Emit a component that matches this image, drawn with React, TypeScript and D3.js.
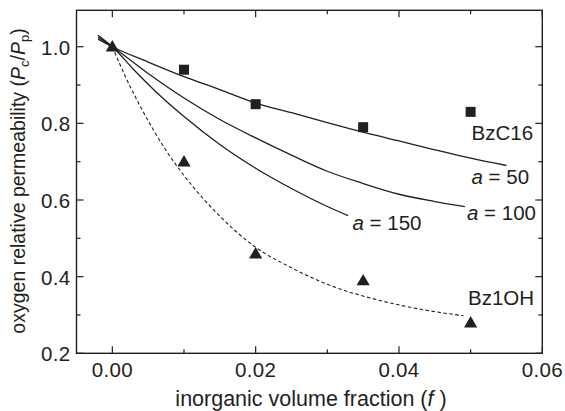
import React from "react";
import * as d3 from "d3";

const bzc16X = [0.01, 0.02, 0.035, 0.05];
const bzc16Y = [0.94, 0.85, 0.79, 0.83];
const bz1ohX = [0.0, 0.01, 0.02, 0.035, 0.05];
const bz1ohY = [1.0, 0.70, 0.46, 0.39, 0.28];

const curveA50: [number, number][] = [
  [-0.002, 1.02], [0, 1.0], [0.005, 0.96], [0.01, 0.922], [0.015, 0.888], [0.02, 0.853],
  [0.025, 0.828], [0.03, 0.802], [0.035, 0.777], [0.04, 0.754], [0.045, 0.731], [0.05, 0.709], [0.055, 0.69],
];
const curveA100: [number, number][] = [
  [-0.002, 1.025], [0, 1.0], [0.005, 0.93], [0.01, 0.866], [0.015, 0.81], [0.02, 0.762],
  [0.025, 0.717], [0.03, 0.675], [0.035, 0.643], [0.04, 0.615], [0.045, 0.596], [0.0492, 0.583],
];
const curveA150: [number, number][] = [
  [-0.002, 1.03], [0, 1.0], [0.003, 0.94], [0.006, 0.884], [0.01, 0.818], [0.015, 0.745],
  [0.02, 0.683], [0.025, 0.63], [0.03, 0.583], [0.0329, 0.559],
];
const curveBz1OH: [number, number][] = [
  [0, 1.0], [0.002, 0.915], [0.004, 0.841], [0.0073, 0.735], [0.01, 0.664], [0.015, 0.558],
  [0.0196, 0.482], [0.025, 0.423], [0.03, 0.38], [0.0373, 0.338], [0.043, 0.315], [0.049, 0.298],
];

const xMajor = [0.0, 0.02, 0.04, 0.06];
const xMinor = [0.01, 0.03, 0.05];
const yMajor = [0.2, 0.4, 0.6, 0.8, 1.0];
const yMinor = [0.3, 0.5, 0.7, 0.9];

const W = 565, H = 411;
const L = 76.5, R = 542.3, T = 10.3, B = 353.3;
const INK = "#231f20";
const FONT = "'Liberation Sans', Arial, Helvetica, sans-serif";

export default function App() {
  const x = d3.scaleLinear().domain([-0.005, 0.06]).range([L, R]);
  const y = d3.scaleLinear().domain([0.2, 1.095]).range([B, T]);
  const line = d3.line<[number, number]>().x(d => x(d[0])).y(d => y(d[1])).curve(d3.curveMonotoneX);
  const fs = 20.5;
  const tri = d3.symbol().type(d3.symbolTriangle).size(75)();
  return (
    <svg width={W} height={H} style={{ position: "absolute", left: 0, top: 0, background: "#fff" }}
      fontFamily={FONT} fill={INK}>
      <rect x={0} y={0} width={W} height={H} fill="#fff" />
      {/* curves */}
      <g fill="none" stroke={INK} strokeWidth={1.3}>
        <path d={line(curveA50) || ""} />
        <path d={line(curveA100) || ""} />
        <path d={line(curveA150) || ""} />
        <path d={line(curveBz1OH) || ""} strokeDasharray="3.5,2.5" strokeWidth={1.1} />
      </g>
      {/* markers */}
      {bzc16X.map((v, i) => (
        <rect key={"s" + i} x={x(v) - 5} y={y(bzc16Y[i]) - 5} width={10} height={10} fill={INK} />
      ))}
      {bz1ohX.map((v, i) => (
        <path key={"t" + i} d={tri || ""} transform={`translate(${x(v)},${y(bz1ohY[i]) + 1})`} fill={INK} />
      ))}
      {/* frame */}
      <rect x={L} y={T} width={R - L} height={B - T} fill="none" stroke={INK} strokeWidth={1.4} />
      {/* ticks */}
      <g stroke={INK} strokeWidth={1.2}>
        {xMajor.map(v => (
          <g key={"xM" + v}>
            <line x1={x(v)} x2={x(v)} y1={B} y2={B - 7} />
            <line x1={x(v)} x2={x(v)} y1={T} y2={T + 7} />
          </g>
        ))}
        {xMinor.map(v => (
          <g key={"xm" + v}>
            <line x1={x(v)} x2={x(v)} y1={B} y2={B - 4} />
            <line x1={x(v)} x2={x(v)} y1={T} y2={T + 4} />
          </g>
        ))}
        {yMajor.map(v => (
          <g key={"yM" + v}>
            <line x1={L} x2={L + 7} y1={y(v)} y2={y(v)} />
            <line x1={R} x2={R - 7} y1={y(v)} y2={y(v)} />
          </g>
        ))}
        {yMinor.map(v => (
          <g key={"ym" + v}>
            <line x1={L} x2={L + 4} y1={y(v)} y2={y(v)} />
            <line x1={R} x2={R - 4} y1={y(v)} y2={y(v)} />
          </g>
        ))}
      </g>
      {/* tick labels */}
      <g fontSize={fs} letterSpacing={0.3}>
        {xMajor.map(v => (
          <text key={"xl" + v} x={x(v)} y={377} textAnchor="middle">{d3.format(".2f")(v)}</text>
        ))}
        {yMajor.map(v => (
          <text key={"yl" + v} x={70.5} y={y(v) + 8} textAnchor="end">{d3.format(".1f")(v)}</text>
        ))}
      </g>
      {/* axis titles */}
      <text x={311} y={406} textAnchor="middle" fontSize={21.5}>
        inorganic volume fraction (<tspan fontStyle="italic">f</tspan> )
      </text>
      <text transform={`translate(25,181) rotate(-90)`} textAnchor="middle" fontSize={19.5}>
        oxygen relative permeability (<tspan fontStyle="italic">P</tspan>
        <tspan fontSize={13} dy={4}>c</tspan>
        <tspan dy={-4}>/</tspan>
        <tspan fontStyle="italic">P</tspan>
        <tspan fontSize={13} dy={4}>p</tspan>
        <tspan dy={-4}>)</tspan>
      </text>
      {/* annotations */}
      <g fontSize={fs}>
        <text x={471.5} y={140}>BzC16</text>
        <text x={471.5} y={183.5}><tspan fontStyle="italic">a</tspan> = 50</text>
        <text x={467} y={220}><tspan fontStyle="italic">a</tspan> = 100</text>
        <text x={352.5} y={230}><tspan fontStyle="italic">a</tspan> = 150</text>
        <text x={468} y={305}>Bz1OH</text>
      </g>
    </svg>
  );
}
